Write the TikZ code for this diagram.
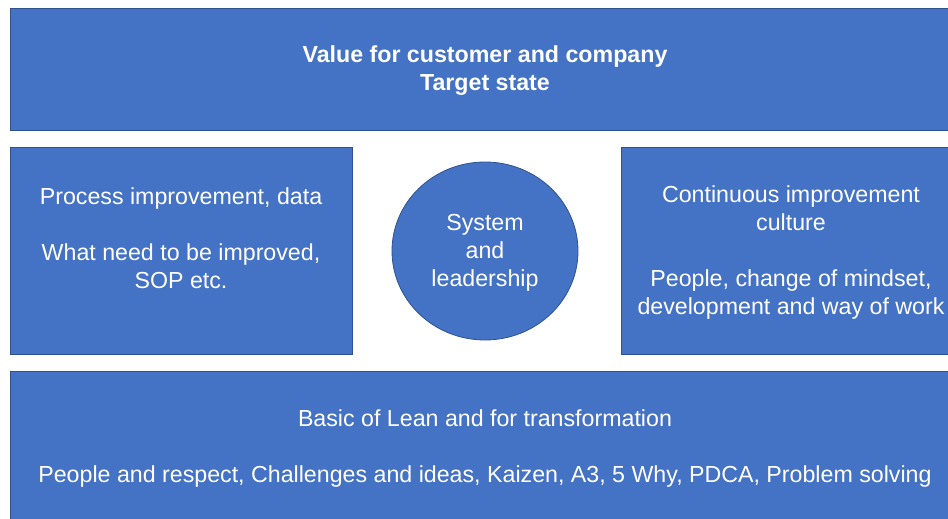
\documentclass[tikz,border=0pt]{standalone}
\usepackage{fontspec}
\setmainfont{Liberation Sans}
\usetikzlibrary{shapes.geometric}
\definecolor{leanblue}{HTML}{4472C4}
\definecolor{leanedge}{HTML}{2F528F}

\begin{document}
\begin{tikzpicture}[x=1pt,y=-1pt]
		\tikzset{lean box/.style={draw=leanedge,line width=0.8pt,fill=leanblue,rectangle,inner sep=0pt},
			box text/.style={text=white,align=center,yshift=-2pt,font=\fontsize{23.2}{28}\selectfont}}

		\useasboundingbox[fill=white] (0,0) rectangle (948,519);
		\begin{scope}
		\clip (0,0) rectangle (948,519);
		% top bar and the two pillars
		\node [lean box, minimum width=950, minimum height=122] (target) at (485,69) {};
		\node [lean box, minimum width=342, minimum height=207] (process) at (181,250.5) {};
		\node [lean box, minimum width=340, minimum height=207] (culture) at (791,250.5) {};
		\node [lean box, ellipse, minimum width=186, minimum height=178] (system) at (485,251) {};
		% foundation
		\node [lean box, minimum width=950, minimum height=150] (basic) at (485,446) {};
		\end{scope}

		\node [box text, font=\fontsize{23.2}{28}\selectfont\bfseries] (targettext) at (target.center) {Value for customer and company\\Target state};
		\node [box text] (processtext) at ([yshift=14]process.center) {Process improvement, data\\[28pt]What need to be improved,\\SOP etc.};
		\node [box text] (culturetext) at (culture.center) {Continuous improvement\\culture\\[28pt]People, change of mindset,\\development and way of work};
		\node [box text] (systemtext) at (system.center) {System\\and\\leadership};
		\node [box text] (basictext) at (basic.center) {Basic of Lean and for transformation\\[28pt]People and respect, Challenges and ideas, Kaizen, A3, 5 Why, PDCA, Problem solving};
	\end{tikzpicture}
\end{document}
